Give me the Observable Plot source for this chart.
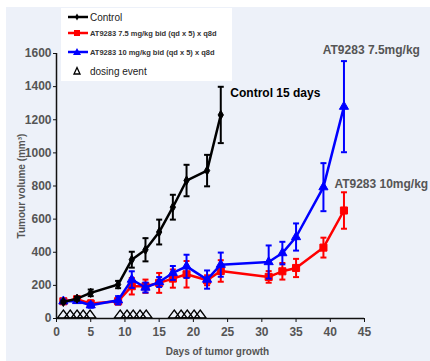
<!DOCTYPE html>
<html><head><meta charset="utf-8">
<script src="https://cdn.jsdelivr.net/npm/d3@7"></script>
<script src="https://cdn.jsdelivr.net/npm/@observablehq/plot@0.6"></script>
<style>
body{margin:0;background:#fff;width:430px;height:361px;overflow:hidden;font-family:"Liberation Sans",Arial,sans-serif;position:relative}
#chart{position:absolute;left:6px;top:7px}
#legend{position:absolute;left:61px;top:8px;width:171px;height:73px;background:#fff}
.row{position:absolute;left:5px;height:12px;display:flex;align-items:center;white-space:nowrap}
.row svg{display:block}
.t1{font-size:10px;color:#222}
.t2{font-size:7.5px;font-weight:bold;color:#333}
g[aria-label="x-axis tick label"],g[aria-label="y-axis tick label"]{font-weight:bold;font-size:12px;fill:#555}
g[aria-label="y-axis label"]{font-weight:bold;font-size:10px;fill:#555}
</style></head><body>
<div id="chart"></div>
<div id="legend"></div>
<script>
// ---- data ----
const controlDays = [1, 3, 5, 9, 11, 13, 15, 17, 19, 22, 24];
const controlMean = [100, 120, 155, 205, 355, 415, 522, 672, 833, 893, 1229];
const controlErr  = [8, 12, 20, 22, 48, 70, 75, 75, 95, 95, 170];

const treatDays   = [1, 3, 5, 9, 11, 13, 15, 17, 19, 22, 24, 31, 33, 35, 39, 42];
const dose75Mean  = [104, 116, 90, 104, 195, 195, 215, 241, 267, 231, 287, 251, 285, 305, 428, 652];
const dose75Err   = [10, 15, 20, 20, 50, 40, 60, 55, 80, 30, 65, 35, 50, 55, 60, 110];
const dose10Mean  = [104, 106, 80, 110, 235, 187, 220, 275, 315, 235, 325, 341, 395, 492, 793, 1279];
const dose10Err   = [10, 10, 15, 25, 50, 30, 30, 42, 70, 55, 73, 100, 68, 82, 145, 275];

const doseDays = [1, 2, 3, 3.9, 4.9, 9.3, 10.3, 11.2, 12.2, 13.1, 17.2, 18.2, 19.1, 20.1, 21];
const doseMarkerVol = 0;

const xTicks = [0, 5, 10, 15, 20, 25, 30, 35, 40, 45];
const yTicks = [0, 200, 400, 600, 800, 1000, 1200, 1400, 1600];

const legendLabels = ["Control", "AT9283 7.5 mg/kg bid (qd x 5) x q8d", "AT9283 10 mg/kg bid (qd x 5) x q8d", "dosing event"];

const noteText  = ["Control 15 days", "AT9283 7.5mg/kg", "AT9283 10mg/kg"];
const noteDay   = [25.4, 38.9, 40.6];
const noteVol   = [1360, 1618, 809];
const noteColor = ["#000", "#555", "#555"];

// ---- build ----
const series = (days, vals, errs) => days.map((d, i) => ({day: d, v: vals[i], e: errs[i]}));
const C = series(controlDays, controlMean, controlErr);
const R = series(treatDays, dose75Mean, dose75Err);
const B = series(treatDays, dose10Mean, dose10Err);
const dosing = doseDays.map(d => ({day: d, v: doseMarkerVol}));
const notes = noteText.map((t, i) => ({t, day: noteDay[i], v: noteVol[i], c: noteColor[i]}));

const cap = {draw(ctx) { ctx.moveTo(-3, 0); ctx.lineTo(3, 0); }};
const doseTri = {draw(ctx) { ctx.moveTo(0, -8.5); ctx.lineTo(6, -0.5); ctx.lineTo(-6, -0.5); ctx.closePath(); }};

function group(data, color, symbol, r) {
  return [
    Plot.ruleX(data, {x: "day", y1: d => d.v - d.e, y2: d => d.v + d.e, stroke: color, strokeWidth: 2}),
    Plot.dot(data, {x: "day", y: d => d.v + d.e, symbol: cap, stroke: color, fill: "none", strokeWidth: 2}),
    Plot.dot(data, {x: "day", y: d => d.v - d.e, symbol: cap, stroke: color, fill: "none", strokeWidth: 2}),
    Plot.line(data, {x: "day", y: "v", stroke: color, strokeWidth: 2.5}),
    Plot.dot(data, {x: "day", y: "v", symbol, r, fill: color, stroke: color, strokeWidth: 1})
  ];
}

const chart = Plot.plot({
  width: 424, height: 354,
  marginLeft: 50, marginRight: 66, marginTop: 46, marginBottom: 43,
  style: {background: "#edf1f9", fontFamily: "Liberation Sans, Arial, sans-serif", overflow: "visible"},
  x: {domain: [0, 45]},
  y: {domain: [0, 1600]},
  marks: [
    Plot.axisX({ticks: xTicks, tickSize: 4, tickPadding: 5, stroke: "#111", label: null}),
    Plot.axisY({ticks: yTicks, tickFormat: d => String(d), tickSize: 3, tickPadding: 2, stroke: "#111",
      label: "Tumour volume (mm³)", labelAnchor: "center", labelArrow: "none", labelOffset: 39}),
    Plot.dot(dosing, {x: "day", y: "v", symbol: doseTri, fill: "none", stroke: "#000", strokeWidth: 1.3}),
    Plot.ruleY([0], {stroke: "#111", strokeWidth: 1.5}),
    Plot.ruleX([0], {stroke: "#111", strokeWidth: 1.5}),
    ...group(R, "#ff0000", "square", 4),
    ...group(B, "#0000ff", "triangle", 3.4),
    ...group(C, "#000000", "diamond", 2.8),
    Plot.text(notes, {x: "day", y: "v", text: "t", fill: "c", textAnchor: "start", fontSize: 12, fontWeight: "bold"}),
    Plot.text(["Days of tumor growth"], {frameAnchor: "bottom", dx: 7, dy: 36, fontSize: 10, fontWeight: "bold", fill: "#555"})
  ]
});
document.getElementById("chart").append(chart);

// ---- legend ----
const legend = document.getElementById("legend");
const rowsTop = [3, 19, 38, 57];
const sym = [
  '<line x1="2" y1="6" x2="22" y2="6" stroke="#000" stroke-width="2.5"/><path d="M11,2.5L13,6L11,9.5L9,6Z" fill="#000"/>',
  '<line x1="2" y1="6" x2="22" y2="6" stroke="#f00" stroke-width="2.5"/><rect x="8" y="3" width="6" height="6" fill="#f00"/>',
  '<line x1="2" y1="6" x2="22" y2="6" stroke="#00f" stroke-width="2.5"/><path d="M11,2L15,9L7,9Z" fill="#00f"/>',
  '<path d="M11,2.5L14,9L8,9Z" fill="none" stroke="#000" stroke-width="1.3"/>'
];
legendLabels.forEach((lab, i) => {
  const row = document.createElement("div");
  row.className = "row";
  row.style.top = rowsTop[i] + "px";
  row.innerHTML = `<svg width="24" height="12">${sym[i]}</svg><span class="${i === 1 || i === 2 ? "t2" : "t1"}"></span>`;
  row.querySelector("span").textContent = lab;
  legend.append(row);
});
</script>
</body></html>
